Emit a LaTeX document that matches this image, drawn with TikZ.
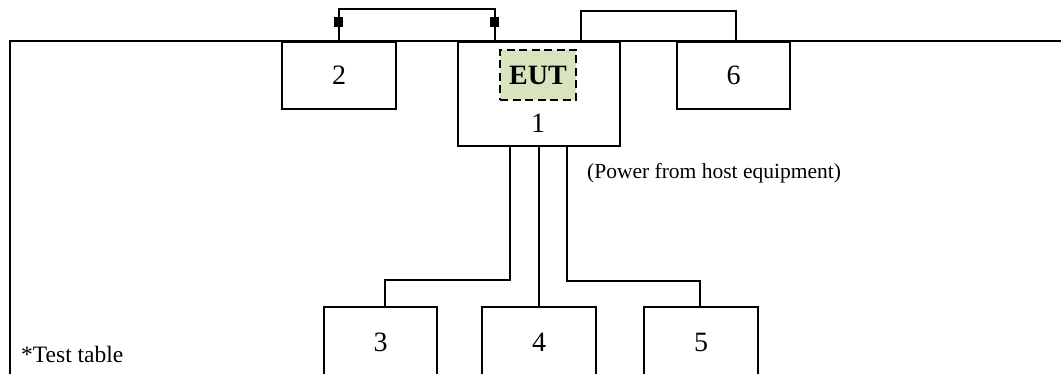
\documentclass[tikz,border=0pt]{standalone}
\usepackage{fontspec}
\setmainfont{Liberation Serif}
\begin{document}
\begin{tikzpicture}[x=1pt,y=-1pt,
  box/.style={draw,line width=2pt,rectangle,inner sep=0pt,font=\fontsize{28}{30}\selectfont},
  wire/.style={line width=1.8pt},
  plug/.style={fill=black,draw=none,minimum width=9pt,minimum height=10pt,inner sep=0pt},
  eut/.style={draw,dashed,dash pattern=on 8pt off 4.5pt,line width=2pt,fill=eutgreen,inner sep=0pt,minimum width=76pt,minimum height=50pt,font=\bfseries\fontsize{28}{30}\selectfont},
  lbl/.style={inner sep=0pt,font=\fontsize{21.5}{24}\selectfont}]
\definecolor{eutgreen}{HTML}{D7E4BD}
\useasboundingbox (0,0) rectangle (1061,374);
% table
\coordinate (tl) at (10,41);
\coordinate (tr) at (1065,41);
\coordinate (bl) at (10,380);
\draw[line width=2.3pt] (bl) -- (tl) -- (tr);
% boxes
\node[box,minimum width=114pt,minimum height=67pt,anchor=north west] (b2) at (281,41) {2};
\node[box,minimum width=162pt,minimum height=104pt,anchor=north west] (b1) at (457,41) {};
\node[box,minimum width=113pt,minimum height=67pt,anchor=north west] (b6) at (676,41) {6};
\node[eut] (eut) at (538,75) {EUT};
\node[inner sep=0pt,font=\fontsize{28}{30}\selectfont] (one) at (538,123) {1};
\node[box,minimum width=113pt,minimum height=70pt,anchor=north west] (b3) at (323,306) {3};
\node[box,minimum width=114pt,minimum height=70pt,anchor=north west] (b4) at (481,306) {4};
\node[box,minimum width=114pt,minimum height=70pt,anchor=north west] (b5) at (643,306) {5};
% link 2 - 1
\draw[wire] (b2.north) -- ++(0,-32) -| ([xshift=-44pt]b1.north);
\node[plug] (p1) at (338,22) {};
\node[plug] (p2) at (494,22) {};
% link 1 - 6
\draw[wire] ([xshift=42pt]b1.north) -- ++(0,-30) -| ([xshift=2.5pt]b6.north);
% links to 3,4,5
\draw[wire] ([xshift=-29pt]b1.south) -- ++(0,133) -| ([xshift=4.5pt]b3.north);
\draw[wire] (b1.south) -- (b1.south |- b4.north);
\draw[wire] ([xshift=28pt]b1.south) -- ++(0,134) -| ([xshift=-1pt]b5.north);
% labels
\node[lbl,anchor=west] (pw) at (587,173) {(Power from host equipment)};
\node[lbl,anchor=west,font=\fontsize{23.5}{26}\selectfont] (tt) at (21,354) {*Test table};
\end{tikzpicture}
\end{document}
